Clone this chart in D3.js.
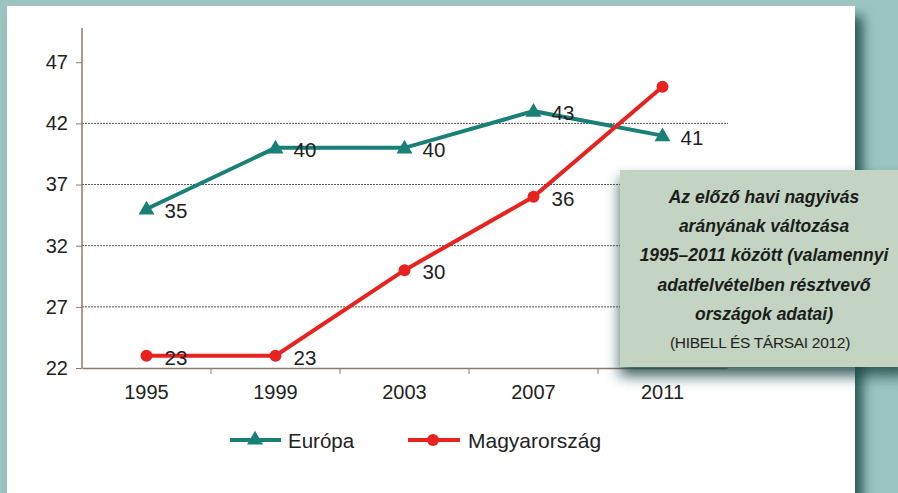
<!DOCTYPE html>
<html>
<head>
<meta charset="utf-8">
<script src="https://cdn.jsdelivr.net/npm/d3@7"></script>
<style>
  body { margin: 0; background: #9cc5c2; }
  svg { display: block; font-family: "Liberation Sans", Arial, sans-serif; }
</style>
</head>
<body>
<script>
var years = ["1995", "1999", "2003", "2007", "2011"];
var europa = [35, 40, 40, 43, 41];
var magyar = [23, 23, 30, 36, 45];
var yTicks = [22, 27, 32, 37, 42, 47];
var gridTicks = [27, 32, 37, 42];
var noteLines = ["Az előző havi nagyivás", "arányának változása", "1995–2011 között (valamennyi", "adatfelvételben résztvevő", "országok adatai)"];
var noteSource = "(HIBELL ÉS TÁRSAI 2012)";

var w = 898;
var h = 493;

var svg = d3.select("body")
  .append("svg")
  .attr("width", w)
  .attr("height", h);

var defs = svg.append("defs");
function shadow(id, dx, dy, blur) {
  var f = defs.append("filter").attr("id", id)
    .attr("x", "-20%").attr("y", "-20%").attr("width", "140%").attr("height", "150%");
  f.append("feGaussianBlur").attr("in", "SourceAlpha").attr("stdDeviation", blur);
  f.append("feOffset").attr("dx", dx).attr("dy", dy).attr("result", "blur");
  f.append("feFlood").attr("flood-color", "#1a4744").attr("flood-opacity", 0.85);
  f.append("feComposite").attr("in2", "blur").attr("operator", "in");
  var m = f.append("feMerge");
  m.append("feMergeNode");
  m.append("feMergeNode").attr("in", "SourceGraphic");
}
shadow("panelShadow", 8, 10, 6);
shadow("boxShadow", 0, 9, 7);

// white panel
svg.append("rect")
  .attr("x", 7).attr("y", 6)
  .attr("width", 848).attr("height", 500)
  .attr("fill", "#ffffff")
  .attr("filter", "url(#panelShadow)");

var x = d3.scaleBand()
  .domain(years)
  .range([82, 727]);

var y = d3.scaleLinear()
  .domain([22, 49.8])
  .range([368, 28]);

var g = svg.append("g");

// gridlines
g.selectAll(".grid")
  .data(gridTicks)
  .enter()
  .append("line")
  .attr("x1", 82).attr("x2", 728)
  .attr("y1", function(d) { return y(d); })
  .attr("y2", function(d) { return y(d); })
  .attr("stroke", "#555")
  .attr("stroke-width", 1)
  .attr("stroke-dasharray", "2,1");

// y axis
var yAxis = g.append("g")
  .attr("transform", "translate(82,0)")
  .call(d3.axisLeft(y).tickValues(yTicks).tickSize(6).tickPadding(8));
yAxis.select(".domain").attr("stroke", "#8a7a70").attr("stroke-width", 1.5).attr("d", "M0,28V368");
yAxis.selectAll(".tick line").attr("stroke", "#8a7a70");
yAxis.selectAll("text").attr("font-size", 20).attr("fill", "#222")
  .attr("font-family", "Liberation Sans, Arial, sans-serif");

// x axis
var xAxis = g.append("g")
  .attr("transform", "translate(0,368)")
  .call(d3.axisBottom(x).tickSize(0).tickPadding(17));
xAxis.select(".domain").attr("stroke", "#8a7a70").attr("stroke-width", 1.5);
xAxis.selectAll("text").attr("font-size", 20).attr("fill", "#222")
  .attr("font-family", "Liberation Sans, Arial, sans-serif");
g.selectAll(".xtick")
  .data(years.slice(1))
  .enter()
  .append("line")
  .attr("x1", function(d) { return x(d); })
  .attr("x2", function(d) { return x(d); })
  .attr("y1", 368).attr("y2", 374)
  .attr("stroke", "#8a7a70");

var cx = function(d, i) { return x(years[i]) + x.bandwidth() / 2; };

var line = d3.line()
  .x(function(d, i) { return x(years[i]) + x.bandwidth() / 2; })
  .y(function(d) { return y(d); });

var teal = "#1a8077";
var red = "#e8231f";
var tri = d3.symbol().type(d3.symbolTriangle).size(110);

// Európa
g.append("path")
  .datum(europa)
  .attr("d", line)
  .attr("fill", "none")
  .attr("stroke", teal)
  .attr("stroke-width", 4);
g.selectAll(".eu")
  .data(europa)
  .enter()
  .append("path")
  .attr("d", tri)
  .attr("transform", function(d, i) { return "translate(" + cx(d, i) + "," + (y(d) + 1) + ")"; })
  .attr("fill", teal);
g.selectAll(".eulab")
  .data(europa)
  .enter()
  .append("text")
  .attr("x", function(d, i) { return cx(d, i) + 18; })
  .attr("y", function(d) { return y(d) + 9; })
  .attr("font-size", 20.5)
  .attr("fill", "#222")
  .text(function(d) { return d; });

// Magyarország
g.append("path")
  .datum(magyar)
  .attr("d", line)
  .attr("fill", "none")
  .attr("stroke", red)
  .attr("stroke-width", 4);
g.selectAll(".hu")
  .data(magyar)
  .enter()
  .append("circle")
  .attr("cx", cx)
  .attr("cy", function(d) { return y(d); })
  .attr("r", 6)
  .attr("fill", red);
g.selectAll(".hulab")
  .data(magyar.slice(0, 4))
  .enter()
  .append("text")
  .attr("x", function(d, i) { return cx(d, i) + 18; })
  .attr("y", function(d) { return y(d) + 9; })
  .attr("font-size", 20.5)
  .attr("fill", "#222")
  .text(function(d) { return d; });

// legend
var leg = svg.append("g").attr("transform", "translate(0,440)");
leg.append("line").attr("x1", 230).attr("x2", 281).attr("y1", 0).attr("y2", 0)
  .attr("stroke", teal).attr("stroke-width", 4);
leg.append("path").attr("d", tri).attr("transform", "translate(255,0)").attr("fill", teal);
leg.append("text").attr("x", 288).attr("y", 8).attr("font-size", 20.5).attr("fill", "#222").text("Európa");
leg.append("line").attr("x1", 408).attr("x2", 460).attr("y1", 0).attr("y2", 0)
  .attr("stroke", red).attr("stroke-width", 4);
leg.append("circle").attr("cx", 433).attr("cy", 0).attr("r", 6).attr("fill", red);
leg.append("text").attr("x", 468).attr("y", 8).attr("font-size", 21).attr("fill", "#222").text("Magyarország");

// note box
var note = svg.append("g");
note.append("rect")
  .attr("x", 620).attr("y", 170)
  .attr("width", 290).attr("height", 197)
  .attr("fill", "#c3d4c2")
  .attr("filter", "url(#boxShadow)");
note.selectAll(".nl")
  .data(noteLines)
  .enter()
  .append("text")
  .attr("x", 764)
  .attr("y", function(d, i) { return 203 + i * 29.2; })
  .attr("text-anchor", "middle")
  .attr("font-size", 17.5)
  .attr("font-weight", "bold")
  .attr("font-style", "italic")
  .attr("fill", "#1c1c1c")
  .text(function(d) { return d; });
note.append("text")
  .attr("x", 760).attr("y", 348)
  .attr("text-anchor", "middle")
  .attr("font-size", 15.5)
  .attr("letter-spacing", -0.3)
  .attr("fill", "#222")
  .text(noteSource);
</script>
</body>
</html>
